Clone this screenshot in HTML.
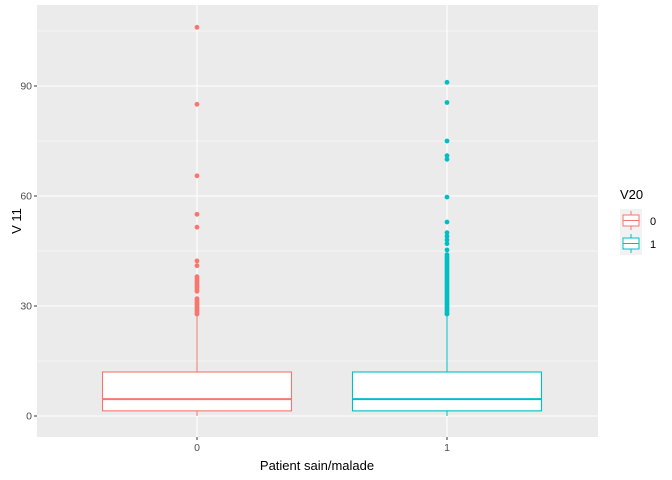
<!DOCTYPE html>
<html><head><meta charset="utf-8"><style>body{margin:0;background:#fff}svg{display:block;font-family:"Liberation Sans",sans-serif}</style></head>
<body>
<svg id="c" width="672" height="480"></svg>
<script>
const categories = ["0","1"];
const colors = ["#F8766D","#00BFC4"];
const q1 = [1.4, 1.4];
const medians = [4.6, 4.6];
const q3 = [12, 12];
const whiskerLow = [0, 0];
const whiskerHigh = [27.5, 27.5];
const outliers0 = [106,85,65.5,55,51.5,42.3,41,38,37.5,37,36.5,36,35.5,35,34.4,34,32,31.5,31,30.5,30,29.5,29,28.5,28,27.8];
const outliers1 = [91,85.5,75,71,70,59.7,52.9,50,49,48,47,45.3,44,43.5,43,42.5,42,41.5,41,40.5,40,39.5,39,38.5,38,37.5,37,36.5,36,35.5,35,34.5,34,33.5,33,32.5,32,31.5,31,30.5,30,29.5,29,28.5,28,27.8];
const yTicks = [0,30,60,90];
const NS="http://www.w3.org/2000/svg";
const svg=document.getElementById('c');
function el(t,a,p){const e=document.createElementNS(NS,t);for(const k in a)e.setAttribute(k,a[k]);(p||svg).appendChild(e);return e;}
const L=37,R=598,T=5,B=437;
const y=v=>416-v*110/30;
const x=i=>197+i*250;
const bg=el('rect',{x:L,y:T,width:R-L,height:B-T,fill:'#EBEBEB'});


for(let v=15;v<=105;v+=30){el('line',{x1:L,x2:R,y1:y(v),y2:y(v),stroke:'#fff','stroke-width':0.6});}
yTicks.forEach(v=>{
 const g=el('line',{x1:L,x2:R,y1:y(v),y2:y(v),stroke:'#fff','stroke-width':1.1});
 
 
 el('line',{x1:L-3,x2:L,y1:y(v),y2:y(v),stroke:'#333'});
 const t=el('text',{x:L-5,y:y(v)+3.5,'text-anchor':'end','font-size':10.5,fill:'#4D4D4D'});t.textContent=v;
 
 
});
categories.forEach((c,i)=>{
 el('line',{x1:x(i),x2:x(i),y1:T,y2:B,stroke:'#fff','stroke-width':1.1});
 el('line',{x1:x(i),x2:x(i),y1:B,y2:B+3,stroke:'#333'});
 const t=el('text',{x:x(i),y:B+14,'text-anchor':'middle','font-size':10.5,fill:'#4D4D4D'});t.textContent=c;
 
 
 const g=el('g',{});
 
 
 const col=colors[i],hw=94.5;
 el('line',{x1:x(i),x2:x(i),y1:y(whiskerHigh[i]),y2:y(q3[i]),stroke:col},g);
 el('line',{x1:x(i),x2:x(i),y1:y(q1[i]),y2:y(whiskerLow[i]),stroke:col},g);
 el('rect',{x:x(i)-hw,y:y(q3[i]),width:2*hw,height:y(q1[i])-y(q3[i]),fill:'#fff',stroke:col,'stroke-width':1.1},g);
 el('line',{x1:x(i)-hw,x2:x(i)+hw,y1:y(medians[i]),y2:y(medians[i]),stroke:col,'stroke-width':2},g);
 (i?outliers1:outliers0).forEach(v=>{
  const p=el('circle',{cx:x(i),cy:y(v),r:2.4,fill:col},g);
  
  
 });
});
const xt=el('text',{x:317,y:470,'text-anchor':'middle','font-size':13,fill:'#000'});xt.textContent='Patient sain/malade';


const yt=el('text',{x:21,y:221,'text-anchor':'middle','font-size':13,fill:'#000',transform:'rotate(-90 21 221)'});yt.textContent='V 11';


const lt=el('text',{x:620,y:199,'font-size':13,fill:'#000'});lt.textContent='V20';


categories.forEach((c,i)=>{
 const g=el('g',{});
 
 
 const top=209+i*23,col=colors[i];
 el('rect',{x:620,y:top,width:22,height:23,fill:'#F2F2F2'},g);
 el('line',{x1:631,x2:631,y1:top+2,y2:top+21,stroke:col},g);
 el('rect',{x:623,y:top+6,width:16,height:11,fill:'#fff',stroke:col},g);
 el('line',{x1:623,x2:639,y1:top+11.5,y2:top+11.5,stroke:col},g);
 const t=el('text',{x:650,y:top+16,'font-size':11,fill:'#000'},g);t.textContent=c;
});
</script>
</body></html>
